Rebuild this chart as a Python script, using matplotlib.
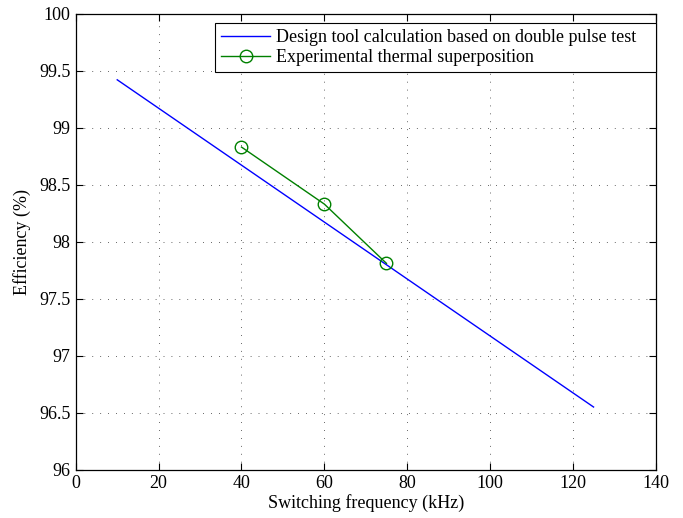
import matplotlib as mpl
mpl.use('Agg')
import matplotlib.pyplot as plt

# design tool curve (double pulse test)
design_freq = [10, 125]
design_eff = [99.42, 96.55]

# experimental thermal superposition
exp_freq = [40, 60, 75]
exp_eff = [98.83, 98.33, 97.81]

xticks = [0, 20, 40, 60, 80, 100, 120, 140]
yticks = [96, 96.5, 97, 97.5, 98, 98.5, 99, 99.5, 100]
ytick_labels = ['96', '96.5', '97', '97.5', '98', '98.5', '99', '99.5', '100']

plt.rcParams['font.family'] = ['Liberation Serif', 'DejaVu Serif']
plt.rcParams['font.size'] = 13

fig = plt.figure(figsize=(6.83, 5.18), dpi=100)
ax = fig.add_axes([0.111, 0.0932, 0.849, 0.8804])

ax.plot(design_freq, design_eff, color='#0000ff', lw=1.0,
        label='Design tool calculation based on double pulse test')
ax.plot(exp_freq, exp_eff, color='#008000', lw=1.0, marker='o', ms=9,
        mfc='none', mec='#008000', mew=1.0,
        label='Experimental thermal superposition')

ax.set_xlim(0, 140)
ax.set_ylim(96, 100)
ax.set_xticks(xticks)
ax.set_yticks(yticks)
ax.set_yticklabels(ytick_labels)
ax.grid(True, color='#333333', linestyle=(0, (1, 8.5)), linewidth=0.6)
ax.tick_params(direction='in', top=True, right=True, length=5, width=0.8,
               labelsize=13, pad=4)
for s in ax.spines.values():
    s.set_linewidth(0.9)

ax.set_xlabel('Switching frequency (kHz)', fontsize=13, labelpad=1)
ax.set_ylabel('Efficiency (%)', fontsize=13, labelpad=6)

leg = ax.legend(loc='upper right', bbox_to_anchor=(0.2397, 0.0, 0.7603, 0.980),
                mode='expand', fancybox=False, framealpha=1,
                edgecolor='black', fontsize=13, borderaxespad=0.0,
                handlelength=2.7, borderpad=0.35, labelspacing=0.15,
                handletextpad=0.35)
leg.get_frame().set_linewidth(0.8)

fig.savefig('out.png', dpi=100)
